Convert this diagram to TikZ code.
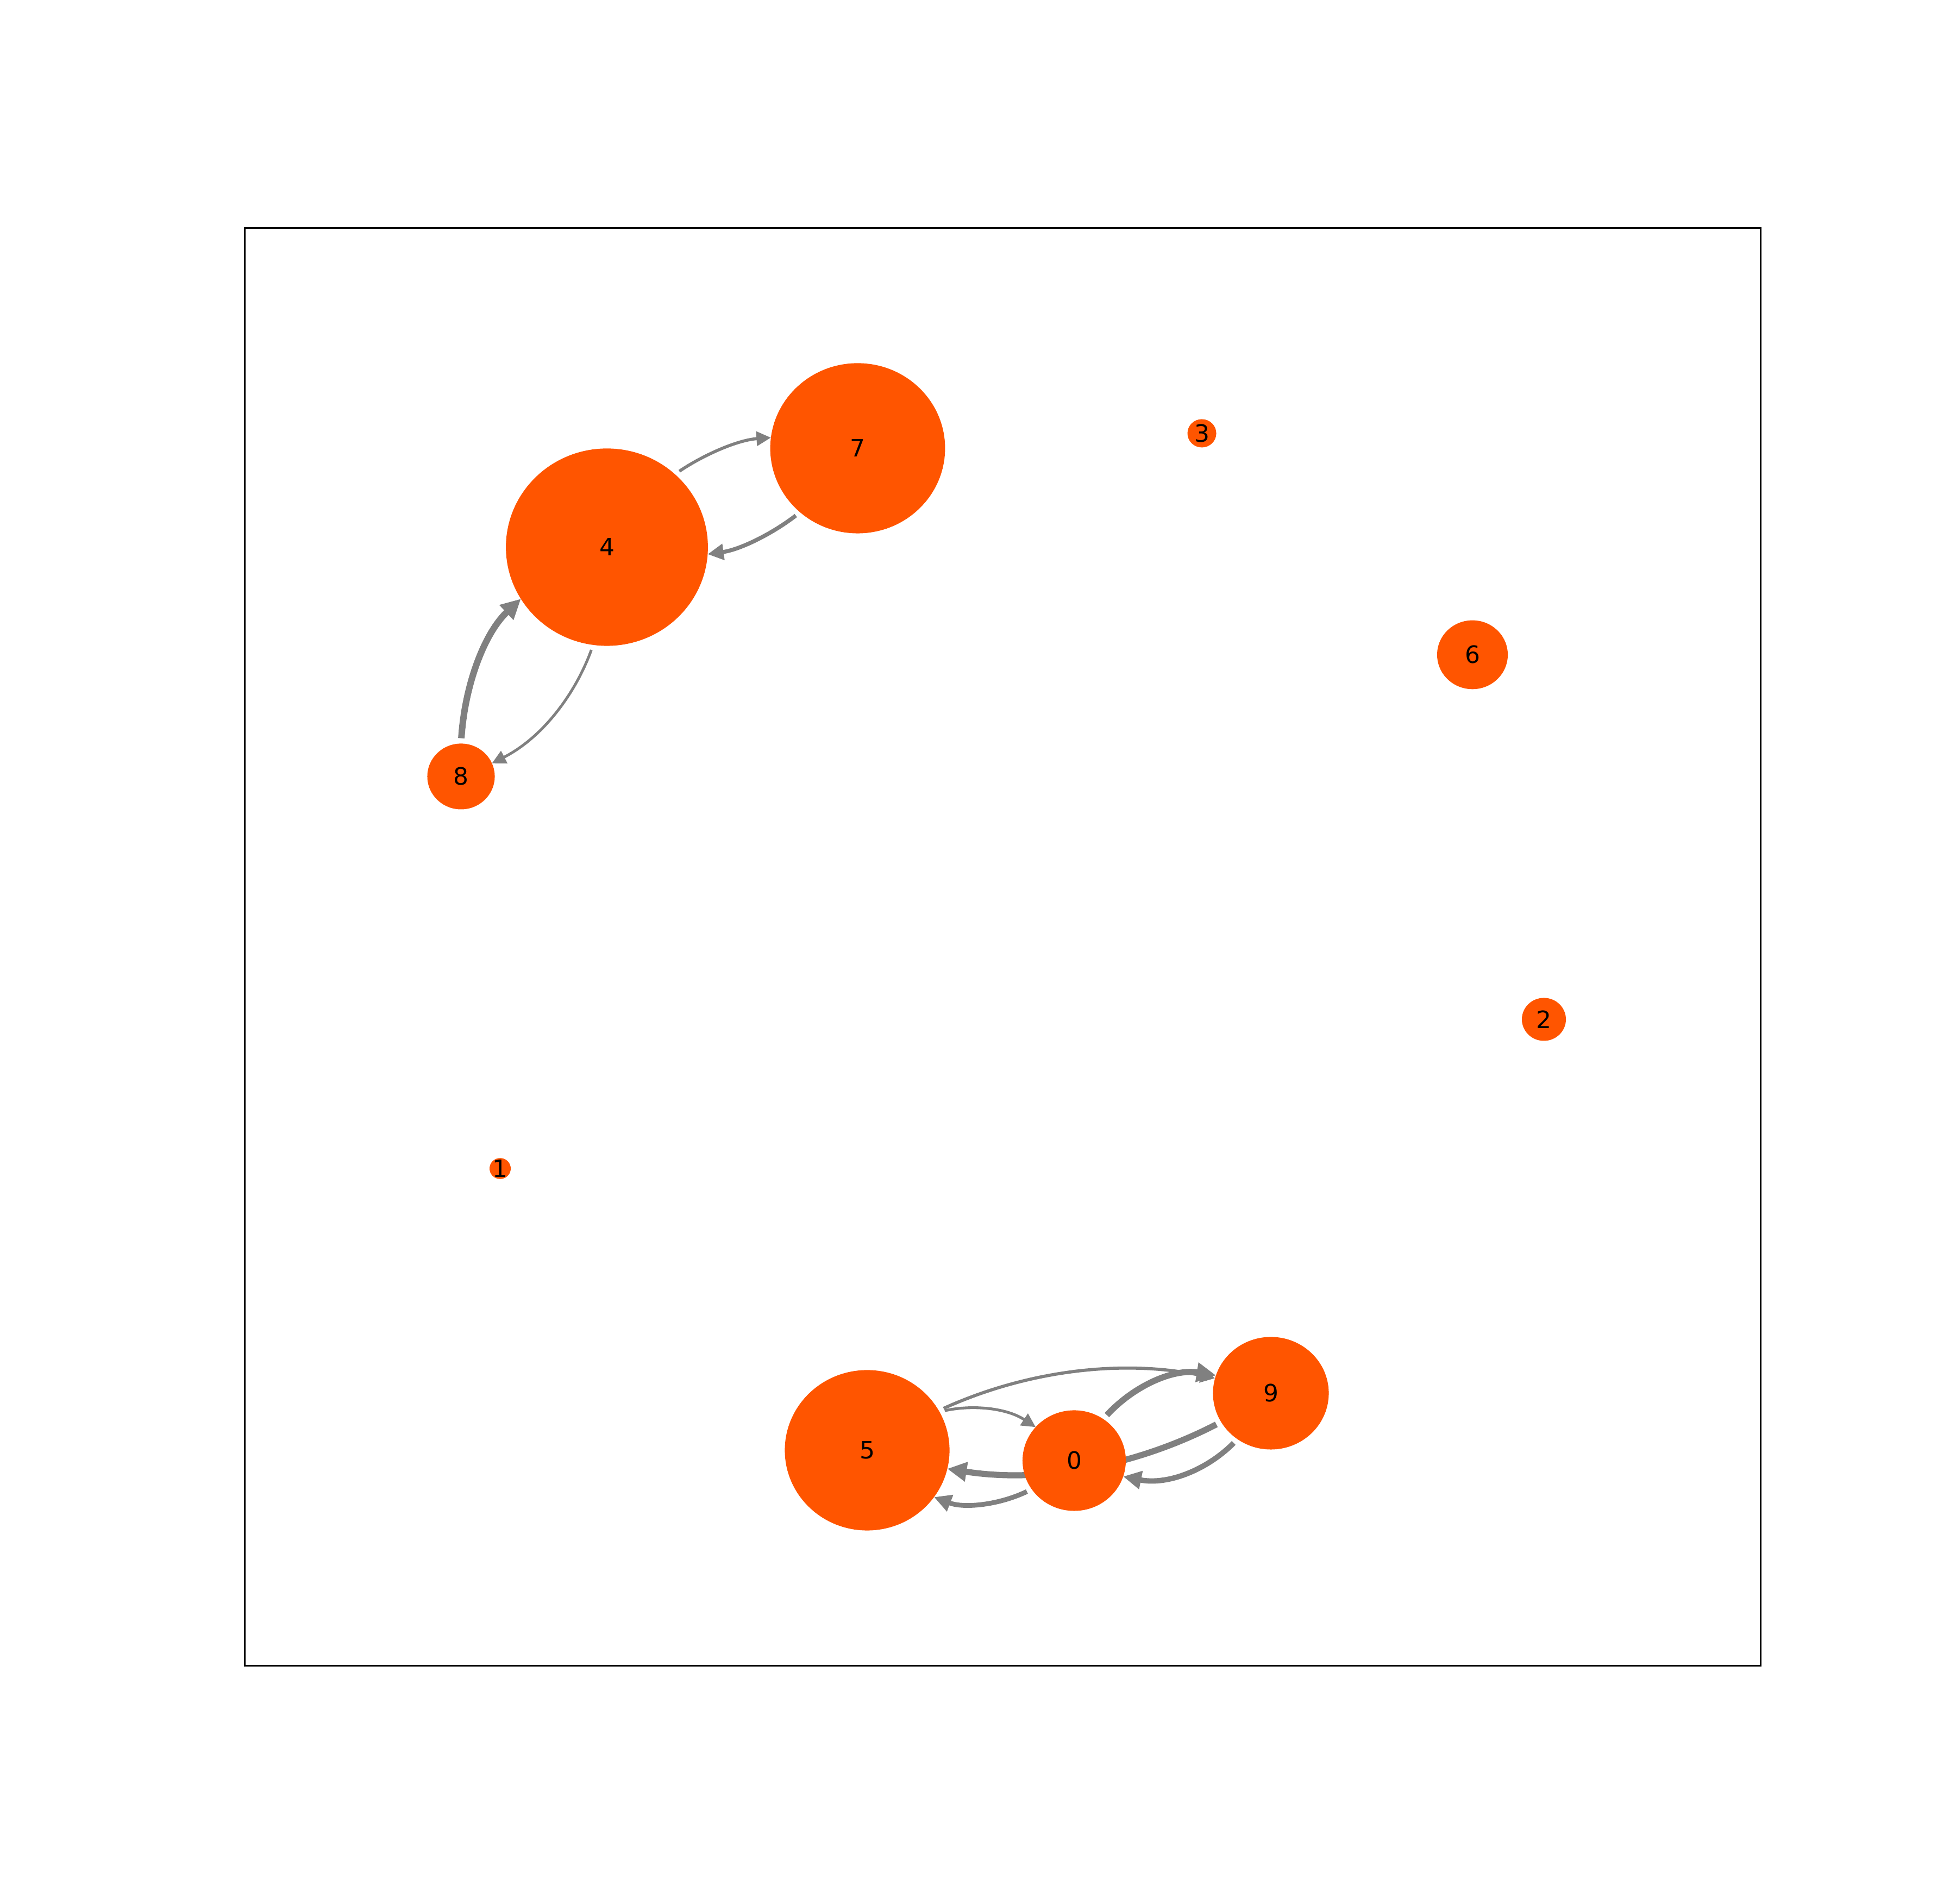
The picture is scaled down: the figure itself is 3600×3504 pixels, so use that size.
\documentclass[tikz,border=0pt]{standalone}
\usepackage{fontspec}
\setmainfont{DejaVu Sans}
\usetikzlibrary{shapes.geometric,arrows.meta}
\definecolor{nodeor}{HTML}{FF5500}
\definecolor{edgegray}{HTML}{808080}
\pgfdeclarelayer{bg}
\pgfsetlayers{bg,main}
\begin{document}
\begin{tikzpicture}[x=0.01cm,y=0.01cm,
  nd/.style={ellipse, fill=nodeor, inner sep=0pt, outer sep=0pt},
  lbl/.style={font=\fontsize{12.5}{15}\selectfont, inner sep=0pt, text=black},
  edg/.style={draw=edgegray, line cap=butt, shorten <=2.8pt,
    -{Triangle[length=5pt 1.6, width=5pt 1.5]}}]
\useasboundingbox (0,0) rectangle (3600,3504);
\draw[line width=0.85pt] (450,438) rectangle (3240,3084);
% nodes
\node[nd, minimum width=1.90cm, minimum height=1.85cm, label={[lbl]center:0}] (n0) at (1977,816) {};
\node[nd, minimum width=0.39cm, minimum height=0.385cm, label={[lbl]center:1}] (n1) at (920.5,1353.5) {};
\node[nd, minimum width=0.81cm, minimum height=0.79cm, label={[lbl]center:2}] (n2) at (2841.5,1628) {};
\node[nd, minimum width=0.53cm, minimum height=0.52cm, label={[lbl]center:3}] (n3) at (2212,2706.5) {};
\node[nd, minimum width=3.716cm, minimum height=3.63cm, label={[lbl]center:4}] (n4) at (1117,2497) {};
\node[nd, minimum width=3.03cm, minimum height=2.95cm, label={[lbl]center:5}] (n5) at (1596,835) {};
\node[nd, minimum width=1.30cm, minimum height=1.266cm, label={[lbl]center:6}] (n6) at (2710,2299) {};
\node[nd, minimum width=3.216cm, minimum height=3.13cm, label={[lbl]center:7}] (n7) at (1578.5,2679) {};
\node[nd, minimum width=1.24cm, minimum height=1.21cm, label={[lbl]center:8}] (n8) at (848.5,2075) {};
\node[nd, minimum width=2.13cm, minimum height=2.07cm, label={[lbl]center:9}] (n9) at (2339,940) {};
% edges
\begin{pgfonlayer}{bg}
\draw[edg, line width=1.6pt] (n4.47.1) .. controls +(34.0:61.7) and +(184.2:63.2) .. (n7.173.9);
\draw[edg, line width=2.1pt] (n7.228.7) .. controls +(217.8:62.6) and +(8.1:61.8) .. (n4.-4.4);
\draw[edg, line width=3.4pt] (n8.90.1) .. controls +(86.4:104.8) and +(223.3:94.3) .. (n4.211.1);
\draw[edg, line width=1.4pt] (n4.262.9) .. controls +(250.0:94.2) and +(27.0:106.4) .. (n8.23.9);
\draw[edg, line width=1.45pt] (n5.28.8) .. controls +(12.5:59.2) and +(146.7:66.2) .. (n0.139.4);
\draw[edg, line width=2.5pt] (n0.214.1) .. controls +(205.65:65.4) and +(-20.8:60.4) .. (n5.-35.55);
\draw[edg, line width=1.65pt] (n5.29.4) .. controls +(24.4:174.9) and +(168.2:178.3) .. (n9.165.1);
\draw[edg, line width=3.2pt] (n9.210.8) .. controls +(207.3:178.0) and +(-8.9:175.6) .. (n5.-13.6);
\draw[edg, line width=3.2pt] (n0.55.8) .. controls +(47.4:81.4) and +(170.9:81.1) .. (n9.162.3);
\draw[edg, line width=2.8pt] (n9.234.8) .. controls +(225.2:80.1) and +(-11.4:83.2) .. (n0.-18.7);
\end{pgfonlayer}
\end{tikzpicture}
\end{document}
